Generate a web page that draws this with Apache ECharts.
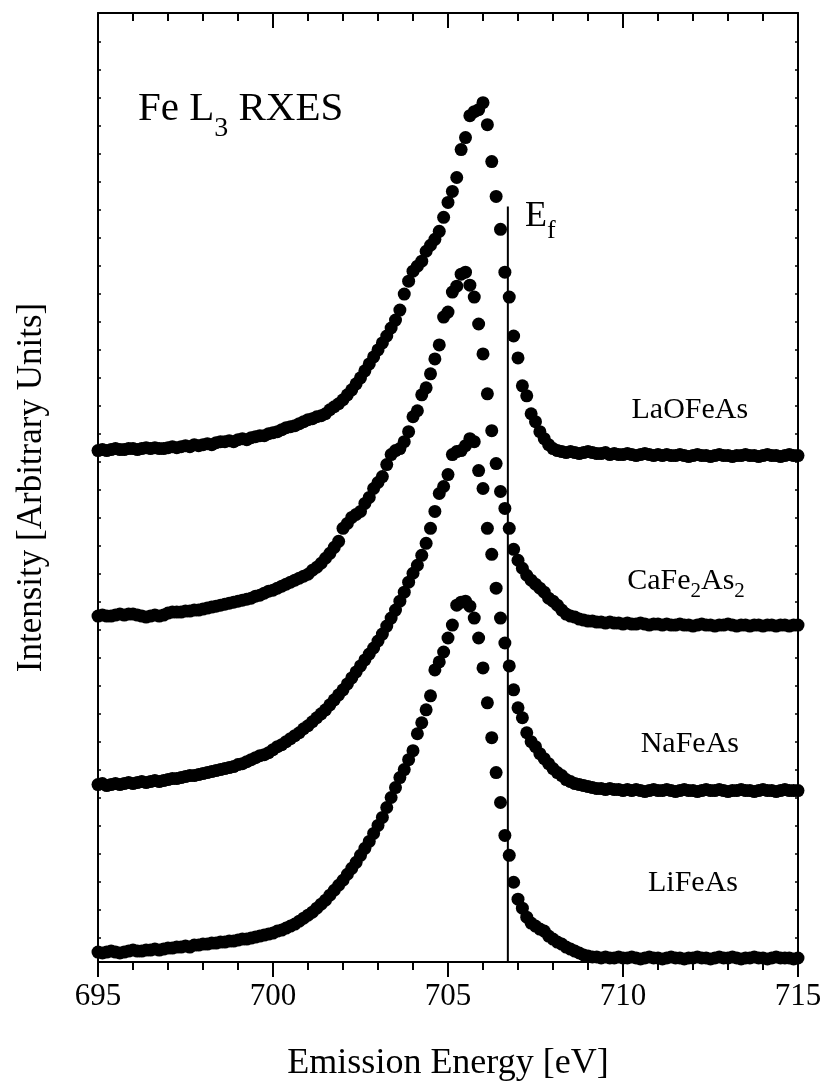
<!DOCTYPE html>
<html><head><meta charset="utf-8">
<script src="https://cdn.jsdelivr.net/npm/echarts@6/dist/echarts.min.js"></script>
<style>html,body{margin:0;padding:0;background:#fff}#c{width:826px;height:1087px}</style>
</head><body><div id="c"></div>
<script>
// Emission energy grid [eV]
const energy = [
695,695.125,695.25,695.375,695.5,695.625,695.75,695.875,
696,696.125,696.25,696.375,696.5,696.625,696.75,696.875,
697,697.125,697.25,697.375,697.5,697.625,697.75,697.875,
698,698.125,698.25,698.375,698.5,698.625,698.75,698.875,
699,699.125,699.25,699.375,699.5,699.625,699.75,699.875,
700,700.125,700.25,700.375,700.5,700.625,700.75,700.875,
701,701.125,701.25,701.375,701.5,701.625,701.75,701.875,
702,702.125,702.25,702.375,702.5,702.625,702.75,702.875,
703,703.125,703.25,703.375,703.5,703.625,703.75,703.875,
704,704.125,704.25,704.375,704.5,704.625,704.75,704.875,
705,705.125,705.25,705.375,705.5,705.625,705.75,705.875,
706,706.125,706.25,706.375,706.5,706.625,706.75,706.875,
707,707.125,707.25,707.375,707.5,707.625,707.75,707.875,
708,708.125,708.25,708.375,708.5,708.625,708.75,708.875,
709,709.125,709.25,709.375,709.5,709.625,709.75,709.875,
710,710.125,710.25,710.375,710.5,710.625,710.75,710.875,
711,711.125,711.25,711.375,711.5,711.625,711.75,711.875,
712,712.125,712.25,712.375,712.5,712.625,712.75,712.875,
713,713.125,713.25,713.375,713.5,713.625,713.75,713.875,
714,714.125,714.25,714.375,714.5,714.625,714.75,714.875,
715];

// Intensities (arbitrary units, vertically offset stacks as in the figure)
const laofeas = [
513,514,513,514,515,514,514,515,515,514,
515,516,515,516,515,515,516,517,516,517,
518,517,519,518,519,520,519,521,522,522,
523,522,524,525,524,526,527,528,528,530,
531,532,534,536,537,538,540,542,544,545,
547,548,550,554,557,560,564,569,574,580,
586,593,600,607,614,621,628,636,644,654,
670,683,693,698,703,713,719,725,733,747,
762,773,787,815,827,849,853,855,862,840,
803,768,735,692,667,628,606,578,568,550,
542,532,525,519,515,513,512,511,512,511,
510,511,512,511,510,510,511,509,510,509,
509,510,509,508,509,510,509,508,509,508,
509,508,508,509,508,507,508,509,508,508,
507,508,509,508,508,507,508,508,509,508,
508,507,508,509,508,508,507,508,509,508,508];

const cafe2as2 = [
347,348,347,347,348,349,348,349,349,348,
347,346,347,348,347,348,350,351,351,351,
352,352,353,353,354,355,356,357,358,359,
360,361,362,363,364,365,367,368,370,372,
373,375,377,379,381,383,385,387,389,393,
396,400,405,410,416,422,435,440,446,449,
452,460,466,475,481,487,499,509,513,515,
522,532,547,553,569,576,590,605,619,647,
652,672,678,690,692,679,667,640,610,570,
533,500,472,455,435,414,403,395,388,383,
379,375,371,365,362,358,353,349,347,346,
344,343,342,342,341,341,340,341,340,340,
339,340,339,339,340,339,338,339,339,338,
339,338,338,339,338,338,337,338,339,338,
338,337,338,338,339,338,337,338,338,337,
338,338,337,338,338,337,338,338,337,338,338];

const nafeas = [
178,179,177,178,179,178,179,180,179,180,
181,180,181,182,181,182,183,184,184,185,
186,187,187,188,189,190,191,192,193,194,
195,196,198,199,201,203,205,207,208,210,
213,216,218,221,224,227,230,234,237,241,
245,249,253,258,263,268,273,279,285,291,
297,303,309,315,322,329,337,345,353,362,
371,381,390,398,408,420,435,452,470,477,
489,509,512,513,518,525,522,493,475,435,
409,375,345,320,297,273,255,245,230,221,
216,209,204,199,194,190,187,183,181,179,
178,177,176,175,174,174,173,174,173,173,
172,173,172,173,172,171,172,173,172,172,
173,172,171,172,173,172,172,171,172,173,
172,172,173,172,171,172,172,173,172,172,
171,172,173,172,172,171,172,173,172,172,172];

const lifeas = [
10,9,10,11,10,9,10,11,12,11,
11,12,12,13,12,13,14,14,15,15,
16,15,17,17,18,18,19,19,20,20,
21,21,22,23,23,24,25,26,27,28,
29,31,32,34,36,38,41,44,47,50,
54,58,62,67,72,77,82,88,94,100,
107,114,121,129,137,145,155,165,175,185,
193,203,212,229,240,253,267,293,301,311,
325,338,358,361,362,357,345,325,295,260,
225,190,160,127,107,80,63,54,45,39,
36,33,31,26,23,20,18,15,13,11,
9,7,6,5,5,4,5,4,4,5,
4,4,5,4,3,4,5,4,4,3,
4,5,4,4,3,4,4,5,4,4,
3,4,5,4,4,5,4,3,4,4,
5,4,4,3,4,5,4,4,4,3,4];

const seriesNames = ['LaOFeAs', 'CaFe2As2', 'NaFeAs', 'LiFeAs'];
const seriesValues = [laofeas, cafe2as2, nafeas, lifeas];

// Fermi level marker
const efEnergy = 706.71;
const efTop = 758;

// Axis settings
const xMin = 695, xMax = 715, xInterval = 5;
const yMin = 0, yMax = 952;
const yTickStart = 24, yTickStep = 28.1, yTickCount = 33;

// Annotation texts (rich) and their anchor points in data coordinates
const labelTexts = ['{m|LaOFeAs}', '{m|CaFe}{s|2}{m|As}{s|2}', '{m|NaFeAs}', '{m|LiFeAs}'];
const labelAnchors = [[711.91, 552], [711.8, 380], [711.91, 217], [712.0, 77]];
const titleText = '{m|Fe L}{s|3}{m| RXES}';
const titleAnchor = [696.14, 853];
const efText = '{m|E}{s|f}';
const efAnchor = [707.2, 746];

const FONT = '"Liberation Serif","Times New Roman",Times,serif';
const yTicks = [];
for (let k = 0; k < yTickCount; k++) yTicks.push(+(yTickStart + k * yTickStep).toFixed(2));

const chart = echarts.init(document.getElementById('c'), null, {renderer: 'canvas'});

const black = '#000';
const lineStyle = {color: black, width: 2};

function xAxisDef(pos) {
  const bottom = pos === 'bottom';
  return {
    type: 'value', position: pos, min: xMin, max: xMax, interval: xInterval,
    name: bottom ? 'Emission Energy [eV]' : '',
    nameLocation: 'middle', nameGap: 84,
    nameTextStyle: {fontFamily: FONT, fontSize: 36, color: black},
    axisLine: {show: true, onZero: false, lineStyle: lineStyle},
    axisTick: {show: true, inside: !bottom, length: 15, lineStyle: lineStyle},
    minorTick: {show: true, splitNumber: 5, length: 8, lineStyle: lineStyle},
    axisLabel: {show: bottom, fontFamily: FONT, fontSize: 31, color: black, margin: 19,
                showMinLabel: true, showMaxLabel: true},
    splitLine: {show: false}, minorSplitLine: {show: false}
  };
}
function yAxisDef(pos) {
  const left = pos === 'left';
  return {
    type: 'value', position: pos, min: yMin, max: yMax,
    name: left ? 'Intensity [Arbitrary Units]' : '',
    nameLocation: 'middle', nameGap: 49,
    nameTextStyle: {fontFamily: FONT, fontSize: 35, color: black},
    axisLine: {show: true, onZero: false, lineStyle: lineStyle},
    axisTick: {show: true, inside: true, length: 3, customValues: yTicks, lineStyle: {color: black, width: 1.5}},
    axisLabel: {show: false},
    splitLine: {show: false}
  };
}

const series = seriesValues.map((vals, idx) => ({
  name: seriesNames[idx], type: 'scatter', xAxisIndex: 0, yAxisIndex: 0,
  symbol: 'circle', symbolSize: 13,
  itemStyle: {color: black, opacity: 1},
  data: energy.map((e, i) => [e, vals[i]]),
  z: 3
}));

series.push({
  name: 'Ef', type: 'line', xAxisIndex: 0, yAxisIndex: 0,
  data: [[efEnergy, yMin], [efEnergy, efTop]],
  symbol: 'none', lineStyle: {color: black, width: 2, opacity: 1}, z: 2, silent: true
});

const richSeries = {
  m: {fontFamily: FONT, fontSize: 30, color: black, lineHeight: 34, verticalAlign: 'top'},
  s: {fontFamily: FONT, fontSize: 21, color: black, lineHeight: 24, verticalAlign: 'top', padding: [15, 0, 0, 0]}
};
const labelBase = {type: 'scatter', xAxisIndex: 0, yAxisIndex: 0, symbolSize: 0, silent: true,
  itemStyle: {color: black, opacity: 1}, z: 5};
series.push(Object.assign({}, labelBase, {
  name: 'labels',
  data: labelAnchors.map((p, i) => ({value: p, txt: labelTexts[i]})),
  label: {show: true, position: 'inside', opacity: 1, color: black, formatter: p => p.data.txt, rich: richSeries}
}));
series.push(Object.assign({}, labelBase, {
  name: 'title',
  data: [{value: titleAnchor, txt: titleText}],
  label: {show: true, position: 'right', distance: 0, opacity: 1, color: black, formatter: p => p.data.txt,
    rich: {
      m: {fontFamily: FONT, fontSize: 41, color: black, lineHeight: 46, verticalAlign: 'top'},
      s: {fontFamily: FONT, fontSize: 28, color: black, lineHeight: 30, verticalAlign: 'top', padding: [26, 0, 0, 0]}
    }}
}));
series.push(Object.assign({}, labelBase, {
  name: 'ef',
  data: [{value: efAnchor, txt: efText}],
  label: {show: true, position: 'right', distance: 0, opacity: 1, color: black, formatter: p => p.data.txt,
    rich: {
      m: {fontFamily: FONT, fontSize: 36, color: black, lineHeight: 40, verticalAlign: 'top'},
      s: {fontFamily: FONT, fontSize: 26, color: black, lineHeight: 28, verticalAlign: 'top', padding: [20, 0, 0, 0]}
    }}
}));

chart.setOption({
  animation: false,
  backgroundColor: '#fff',
  grid: {left: 98, top: 13, width: 700, height: 952, containLabel: false},
  xAxis: [xAxisDef('bottom'), xAxisDef('top')],
  yAxis: [yAxisDef('left'), yAxisDef('right')],
  series: series
});
</script>
</body></html>
